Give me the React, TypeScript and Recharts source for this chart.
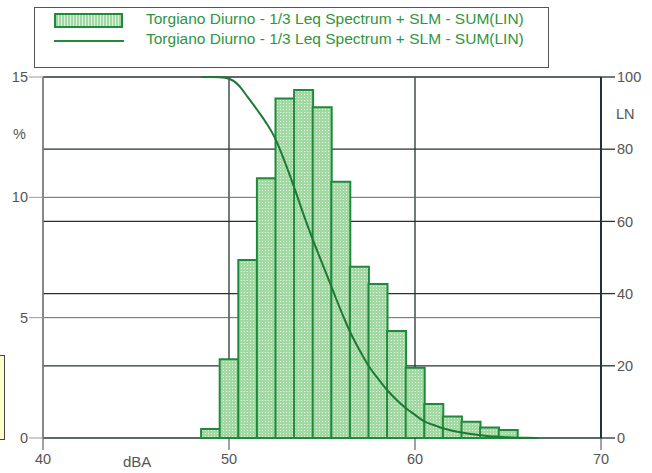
import {
  ComposedChart,
  Bar,
  Line,
  XAxis,
  YAxis,
  CartesianGrid,
} from "recharts";

// 1 dB bins (centre of each bar) and percentage of time in each bin
const bins = [49, 50, 51, 52, 53, 54, 55, 56, 57, 58, 59, 60, 61, 62, 63, 64, 65];
const percent = [0.37, 3.27, 7.4, 10.79, 14.11, 14.46, 13.74, 10.65, 7.12, 6.4, 4.45, 2.92, 1.41, 0.89, 0.68, 0.44, 0.33];

// cumulative LN curve (level, % exceeded)
const lnLevel = [48.5, 49, 49.5, 50, 50.5, 51, 51.5, 52, 52.5, 53, 53.5, 54, 54.5, 55, 55.5, 56, 56.5, 57, 57.5, 58, 58.5, 59, 59.5, 60, 60.5, 61, 61.5, 62, 62.5, 63, 63.5, 64, 64.5, 65, 65.5, 66, 66.6];
const lnValue = [100, 100, 99.9, 99.5, 97.8, 94.5, 91, 87.3, 82.8, 76.5, 69.5, 62, 55, 48.5, 42, 35.5, 29.5, 24.5, 20, 16.5, 13.3, 10.6, 8.3, 6.4, 4.6, 3.6, 2.7, 2.0, 1.5, 1.1, 0.8, 0.5, 0.35, 0.2, 0.1, 0.05, 0];

const xTicks = [40, 50, 60, 70];
const pctTicks = [0, 5, 10, 15];
const lnTicks = [0, 20, 40, 60, 80, 100];

const seriesName = "Torgiano Diurno - 1/3 Leq Spectrum + SLM - SUM(LIN)";

const barData = bins.map((b, i) => ({ db: b, pct: percent[i] }));
const lineData = lnLevel.map((l, i) => ({ db: l, ln: lnValue[i] }));

const FONT = "'Liberation Sans', Arial, sans-serif";
const GREEN = "#1f8a3c";
const tickStyle = { fontSize: 14.5, fill: "#555", fontFamily: FONT };

export default function App() {
  return (
    <div style={{ position: "absolute", left: 0, top: 0, width: 652, height: 473, background: "#fff", fontFamily: FONT }}>
      <ComposedChart
        width={652}
        height={473}
        data={barData}
        margin={{ top: 77, right: 11, left: 13, bottom: 10 }}
        barCategoryGap={0}
        barGap={0}
      >
        <defs>
          <pattern id="dots" width="3" height="3" patternUnits="userSpaceOnUse">
            <rect width="3" height="3" fill="#a2d8a2" />
            <rect x="1" y="1" width="1" height="1" fill="#e8f7e8" />
          </pattern>
        </defs>
        <CartesianGrid xAxisId="main" yAxisId="ln" stroke="#263232" strokeWidth={1.3} vertical={true} />
        <CartesianGrid xAxisId="main" yAxisId="pct" stroke="#5f6a6a" strokeWidth={1} vertical={false} />
        <XAxis
          xAxisId="main"
          dataKey="db"
          type="number"
          domain={[40, 70]}
          ticks={xTicks}
          tick={tickStyle}
          tickSize={12}
          tickMargin={4}
          stroke="#444"
          axisLine={false}
          height={25}
        />
        <XAxis xAxisId="bins" dataKey="db" type="number" domain={[40, 70]} orientation="top" height={0} hide />
        <YAxis
          yAxisId="pct"
          orientation="left"
          domain={[0, 15]}
          ticks={pctTicks}
          tick={tickStyle}
          tickSize={14}
          tickMargin={1}
          stroke="#9a9a9a"
          width={30}
        />
        <YAxis
          yAxisId="ln"
          orientation="right"
          domain={[0, 100]}
          ticks={lnTicks}
          tick={tickStyle}
          tickSize={14}
          tickMargin={2}
          stroke="#1f3535"
          axisLine={{ stroke: "#1f3535", strokeWidth: 2 }}
          tickLine={{ stroke: "#1f3535", strokeWidth: 1.3 }}
          width={40}
        />
        <Bar
          xAxisId="bins"
          yAxisId="pct"
          dataKey="pct"
          fill="url(#dots)"
          stroke={GREEN}
          strokeWidth={2}
          isAnimationActive={false}
        />
        <Line
          data={lineData}
          xAxisId="main"
          yAxisId="ln"
          dataKey="ln"
          type="monotone"
          stroke="#1c7a34"
          strokeWidth={2}
          dot={false}
          isAnimationActive={false}
        />
      </ComposedChart>

      {/* legend box */}
      <div style={{ position: "absolute", left: 34, top: 7, width: 515, height: 61, border: "1px solid #555", background: "#fff", boxSizing: "border-box" }}>
        <div style={{ position: "absolute", left: 19, top: 5, width: 69, height: 15, border: "2px solid " + GREEN, background: "repeating-linear-gradient(90deg,#a2d8a2 0 2px,#dcf2dc 2px 3px)", boxSizing: "border-box" }} />
        <div style={{ position: "absolute", left: 19, top: 32, width: 70, height: 2, background: GREEN }} />
        <div style={{ position: "absolute", left: 111, top: 2, fontSize: 15.5, color: "#2f9540", whiteSpace: "nowrap" }}>{seriesName}</div>
        <div style={{ position: "absolute", left: 111, top: 22, fontSize: 15.5, color: "#2f9540", whiteSpace: "nowrap" }}>{seriesName}</div>
      </div>

      {/* axis titles */}
      <div style={{ position: "absolute", left: 13, top: 126, fontSize: 14.5, color: "#555" }}>%</div>
      <div style={{ position: "absolute", left: 616, top: 106, fontSize: 14.5, color: "#555" }}>LN</div>
      <div style={{ position: "absolute", left: 123, top: 453, fontSize: 15, color: "#555" }}>dBA</div>

      {/* cut-off box at the left edge */}
      <div style={{ position: "absolute", left: 0, top: 355, width: 5, height: 85, border: "1px solid #444", borderLeft: "none", background: "#ffffcc", boxSizing: "border-box" }} />
    </div>
  );
}
